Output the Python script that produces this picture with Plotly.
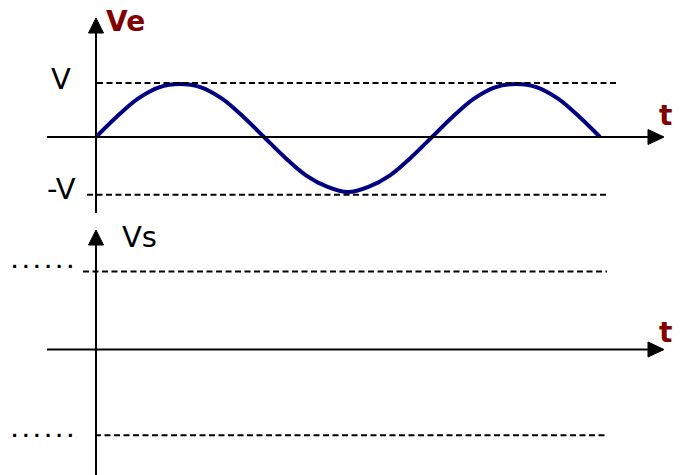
import plotly.graph_objects as go

# ---- data (t in periods, Ve in units of V) ----
t_periods = [0, 0.0625, 0.125, 0.1875, 0.25, 0.3125, 0.375, 0.4375, 0.5,
             0.5625, 0.625, 0.6875, 0.75, 0.8125, 0.875, 0.9375, 1.0,
             1.0625, 1.125, 1.1875, 1.25, 1.3125, 1.375, 1.4375, 1.5]
ve_values = [0, 0.38, 0.71, 0.92, 0.98, 0.92, 0.71, 0.38, 0,
             -0.38, -0.71, -0.92, -1.02, -0.92, -0.71, -0.38, 0,
             0.38, 0.71, 0.92, 0.98, 0.92, 0.71, 0.38, 0]
top_levels = [1.0, -1.07]
top_level_labels = ["V", "-V"]
bottom_levels = [1.0, -1.1]
bottom_level_labels = ["......", "......"]
ve_label = "Ve"
vs_label = "Vs"
t_label = "t"

W, H = 681, 475
RED = "#800000"
NAVY = "#000080"
DASH = "6px,3.5px"

# pixel -> data helpers (layout only)
def X(px):
    return (px - 96) / 336.0

def YT(py):
    return (137 - py) / 54.0

def YB(py):
    return (349.5 - py) / 78.0

def PX(px):
    return px / W

def PY(py):
    return 1 - py / H

split = 1 - 220 / H

fig = go.Figure()
fig.add_trace(go.Scatter(x=t_periods, y=ve_values, mode="lines",
                         line=dict(color=NAVY, width=4, shape="spline"),
                         xaxis="x", yaxis="y", hoverinfo="skip", showlegend=False))
fig.add_trace(go.Scatter(x=[None], y=[None], mode="lines",
                         xaxis="x2", yaxis="y2", showlegend=False))

shapes = []
# top panel axes
shapes.append(dict(type="line", xref="x", yref="y", x0=X(47), x1=X(650), y0=0, y1=0,
                   line=dict(color="black", width=2)))
shapes.append(dict(type="path", xref="x", yref="y",
                   path=f"M {X(648)},{YT(129.5)} L {X(664)},{YT(137)} L {X(648)},{YT(144.5)} Z",
                   fillcolor="black", line=dict(color="black", width=1)))
shapes.append(dict(type="line", xref="x", yref="y", x0=0, x1=0, y0=YT(213), y1=YT(32),
                   line=dict(color="black", width=2)))
shapes.append(dict(type="path", xref="x", yref="y",
                   path=f"M {X(88.5)},{YT(33)} L {X(96)},{YT(18)} L {X(103.5)},{YT(33)} Z",
                   fillcolor="black", line=dict(color="black", width=1)))
# top dashed levels
shapes.append(dict(type="line", xref="x", yref="y", x0=X(97), x1=X(617),
                   y0=top_levels[0], y1=top_levels[0],
                   line=dict(color="black", width=2, dash=DASH)))
shapes.append(dict(type="line", xref="x", yref="y", x0=X(87), x1=X(608),
                   y0=top_levels[1], y1=top_levels[1],
                   line=dict(color="black", width=2, dash=DASH)))

# bottom panel axes
shapes.append(dict(type="line", xref="x2", yref="y2", x0=X(47), x1=X(650), y0=0, y1=0,
                   line=dict(color="black", width=2)))
shapes.append(dict(type="path", xref="x2", yref="y2",
                   path=f"M {X(648)},{YB(342)} L {X(664)},{YB(349.5)} L {X(648)},{YB(357)} Z",
                   fillcolor="black", line=dict(color="black", width=1)))
shapes.append(dict(type="line", xref="x2", yref="y2", x0=0, x1=0, y0=YB(476), y1=YB(244),
                   line=dict(color="black", width=2)))
shapes.append(dict(type="path", xref="x2", yref="y2",
                   path=f"M {X(88.5)},{YB(245)} L {X(96)},{YB(230)} L {X(103.5)},{YB(245)} Z",
                   fillcolor="black", line=dict(color="black", width=1)))
# bottom dashed levels
shapes.append(dict(type="line", xref="x2", yref="y2", x0=X(83), x1=X(607),
                   y0=bottom_levels[0], y1=bottom_levels[0],
                   line=dict(color="black", width=2, dash=DASH)))
shapes.append(dict(type="line", xref="x2", yref="y2", x0=X(95), x1=X(607),
                   y0=bottom_levels[1], y1=bottom_levels[1],
                   line=dict(color="black", width=2, dash=DASH)))

FONT = "DejaVu Sans"
ann = []
def text(s, px, py, size, color="black", bold=False, xanchor="center", family=FONT):
    ann.append(dict(text=f"<b>{s}</b>" if bold else s, x=PX(px), y=PY(py),
                    xref="paper", yref="paper", showarrow=False,
                    xanchor=xanchor, yanchor="middle",
                    font=dict(family=family, size=size, color=color)))

text(ve_label, 104, 21, 28, RED, bold=True, xanchor="left")
text(top_level_labels[0], 61, 79, 29)
text(top_level_labels[1], 61, 189, 29)
text(t_label, 665, 116, 28, RED, bold=True)
text(vs_label, 120, 237, 29, xanchor="left")
text(t_label, 665, 332, 28, RED, bold=True)
text(bottom_level_labels[0], 42, 261, 18.5, bold=True, family="DejaVu Sans Mono")
text(bottom_level_labels[1], 42, 430, 18.5, bold=True, family="DejaVu Sans Mono")

ax_common = dict(visible=False, showgrid=False, zeroline=False, fixedrange=True)
fig.update_layout(
    width=W, height=H, margin=dict(l=0, r=0, t=0, b=0),
    paper_bgcolor="white", plot_bgcolor="white", showlegend=False,
    xaxis=dict(range=[X(0), X(W)], domain=[0, 1], anchor="y", **ax_common),
    yaxis=dict(range=[YT(220), YT(0)], domain=[split, 1], anchor="x", **ax_common),
    xaxis2=dict(range=[X(0), X(W)], domain=[0, 1], anchor="y2", **ax_common),
    yaxis2=dict(range=[YB(H), YB(220)], domain=[0, split], anchor="x2", **ax_common),
    shapes=shapes, annotations=ann,
)
fig.write_html("out.html", config={"displayModeBar": False},
               post_script="document.body.style.margin='0';document.body.style.overflow='hidden';")
